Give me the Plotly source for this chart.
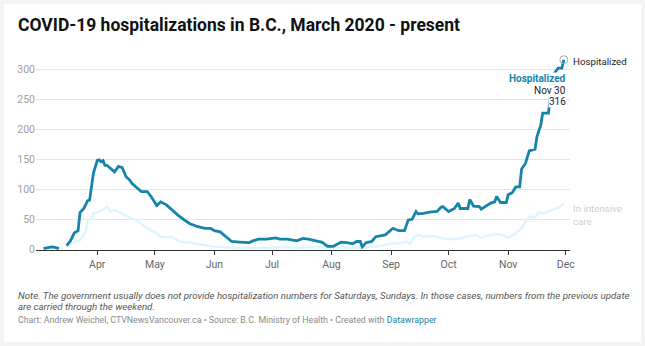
import plotly.graph_objects as go

# ---------------- data ----------------
hosp_dates = [
    "2020-03-04", "2020-03-06", "2020-03-08", "2020-03-10", "2020-03-12", "2020-03-14",
    "2020-03-16", "2020-03-18", "2020-03-20", "2020-03-22", "2020-03-23", "2020-03-25",
    "2020-03-27", "2020-03-28", "2020-03-30", "2020-04-01", "2020-04-02", "2020-04-03",
    "2020-04-04", "2020-04-05", "2020-04-06", "2020-04-08", "2020-04-10", "2020-04-12",
    "2020-04-14", "2020-04-16", "2020-04-18", "2020-04-19", "2020-04-21", "2020-04-23",
    "2020-04-24", "2020-04-27", "2020-04-29", "2020-05-02", "2020-05-04", "2020-05-07",
    "2020-05-10", "2020-05-11", "2020-05-13", "2020-05-15", "2020-05-17", "2020-05-19",
    "2020-05-23", "2020-05-27", "2020-05-30", "2020-06-01", "2020-06-04", "2020-06-07",
    "2020-06-10", "2020-06-14", "2020-06-19", "2020-06-21", "2020-06-24", "2020-06-28",
    "2020-07-03", "2020-07-05", "2020-07-09", "2020-07-14", "2020-07-17", "2020-07-20",
    "2020-07-22", "2020-07-25", "2020-07-27", "2020-07-30", "2020-08-02", "2020-08-06",
    "2020-08-09", "2020-08-12", "2020-08-14", "2020-08-16", "2020-08-17", "2020-08-19",
    "2020-08-22", "2020-08-24", "2020-08-29", "2020-09-01", "2020-09-02", "2020-09-05",
    "2020-09-08", "2020-09-10", "2020-09-12", "2020-09-14", "2020-09-15", "2020-09-18",
    "2020-09-21", "2020-09-25", "2020-09-27", "2020-09-28", "2020-10-01", "2020-10-04",
    "2020-10-06", "2020-10-07", "2020-10-11", "2020-10-12", "2020-10-14", "2020-10-17",
    "2020-10-18", "2020-10-20", "2020-10-23", "2020-10-25", "2020-10-26", "2020-10-28",
    "2020-10-31", "2020-11-01", "2020-11-03", "2020-11-05", "2020-11-07", "2020-11-08",
    "2020-11-10", "2020-11-12", "2020-11-15", "2020-11-16", "2020-11-18", "2020-11-19",
    "2020-11-22", "2020-11-23", "2020-11-25", "2020-11-27", "2020-11-29", "2020-11-30",
]
hosp_values = [
    1, 3, 4, 3, 1, None,
    6, 14, 27, 31, 61, 68,
    81, 82, 127, 148, 149, 146,
    148, 140, 140, 134, 129, 138,
    136, 121, 115, 110, 104, 99,
    96, 96, 88, 73, 79, 74,
    65, 63, 57, 52, 47, 43,
    38, 35, 35, 31, 29, 21,
    13, 12, 11, 14, 17, 17,
    19, 17, 17, 14, 18, 17,
    15, 13, 12, 5, 5, 12,
    11, 9, 13, 13, 4, 11,
    13, 21, 24, 32, 35, 31,
    31, 49, 50, 63, 59, 60,
    62, 63, 70, 71, 63, 68,
    77, 68, 68, 83, 72, 71,
    67, 71, 77, 79, 88, 78,
    78, 91, 94, 104, 104, 134,
    143, 164, 167, 188, 207, 227,
    227, 257, 293, 302, 302, 316,
]

icu_dates = [
    "2020-03-16", "2020-03-19", "2020-03-23", "2020-03-25", "2020-03-26", "2020-03-27",
    "2020-03-29", "2020-03-30", "2020-04-01", "2020-04-03", "2020-04-06", "2020-04-08",
    "2020-04-10", "2020-04-14", "2020-04-18", "2020-04-21", "2020-04-25", "2020-04-28",
    "2020-05-02", "2020-05-04", "2020-05-08", "2020-05-09", "2020-05-11", "2020-05-14",
    "2020-05-19", "2020-05-26", "2020-06-02", "2020-06-12", "2020-06-28", "2020-07-05",
    "2020-07-15", "2020-07-20", "2020-08-15", "2020-08-26", "2020-08-31", "2020-09-05",
    "2020-09-09", "2020-09-11", "2020-09-13", "2020-09-15", "2020-09-18", "2020-09-22",
    "2020-09-25", "2020-09-29", "2020-10-06", "2020-10-10", "2020-10-15", "2020-10-18",
    "2020-10-21", "2020-10-26", "2020-10-29", "2020-11-01", "2020-11-05", "2020-11-08",
    "2020-11-10", "2020-11-12", "2020-11-15", "2020-11-17", "2020-11-20", "2020-11-22",
    "2020-11-25", "2020-11-28", "2020-11-30",
]
icu_values = [
    3, 11, 15, 25, 30, 46,
    52, 60, 62, 64, 71, 63,
    65, 59, 54, 49, 40, 33,
    27, 21, 20, 21, 18, 13,
    11, 7, 4, 2, 2, 4,
    2, 4, 2, 5, 9, 10,
    13, 9, 20, 24, 21, 22,
    21, 17, 17, 21, 24, 19,
    23, 25, 24, 19, 27, 35,
    46, 54, 53, 62, 60, 63,
    67, 71, 77,
]

month_ticks = ["2020-04-01", "2020-05-01", "2020-06-01", "2020-07-01", "2020-08-01",
               "2020-09-01", "2020-10-01", "2020-11-01", "2020-12-01"]
month_labels = ["Apr", "May", "Jun", "Jul", "Aug", "Sep", "Oct", "Nov", "Dec"]
y_ticks = [0, 50, 100, 150, 200, 250, 300]

# ---------------- styling ----------------
BLUE = "#1584aa"
ICU = "#ddf6fd"
FONT = "Roboto"
W, H = 645, 346
L, R, T, B = 36, 570, 54, 250  # plot area in pixels


def px(x):
    return (x - L) / (R - L)


def py(y):
    return (B - y) / (B - T)


fig = go.Figure()
fig.add_trace(go.Scatter(x=icu_dates, y=icu_values, mode="lines",
                         line=dict(color=ICU, width=2.5), hoverinfo="skip",
                         connectgaps=False))
fig.add_trace(go.Scatter(x=hosp_dates, y=hosp_values, mode="lines",
                         line=dict(color=BLUE, width=2.8), hoverinfo="skip",
                         connectgaps=False))
# end marker
fig.add_trace(go.Scatter(x=[hosp_dates[-1]], y=[hosp_values[-1]], mode="markers",
                         marker=dict(size=8, color="rgba(255,255,255,0)",
                                     line=dict(color="#aaaaaa", width=1)),
                         hoverinfo="skip"))

fig.update_layout(
    width=W, height=H,
    margin=dict(l=L, r=W - R, t=T, b=H - B, pad=0),
    paper_bgcolor="#f4f4f4",
    plot_bgcolor="rgba(0,0,0,0)",
    showlegend=False,
    font=dict(family=FONT, color="#333"),
    xaxis=dict(
        range=["2020-02-29 02:00", "2020-12-03 05:00"],
        tickvals=month_ticks, ticktext=month_labels,
        showgrid=False, showline=True, linecolor="#333", linewidth=1,
        ticks="outside", ticklen=4, tickcolor="#333", tickwidth=1,
        tickfont=dict(family=FONT, size=10.5, color="#666"),
        zeroline=False, fixedrange=True,
    ),
    yaxis=dict(
        range=[-1.2, 325.5],
        tickvals=y_ticks,
        showgrid=True, gridcolor="#e6e6e6", gridwidth=1,
        zeroline=False, showline=False, ticks="",
        tickfont=dict(family=FONT, size=10.5, color="#a0a0a0"),
        fixedrange=True,
    ),
    shapes=[dict(type="rect", xref="paper", yref="paper",
                 x0=px(4), x1=px(641), y0=py(342), y1=py(4),
                 fillcolor="white", line=dict(width=0), layer="below")],
)

ann = []
# title
ann.append(dict(xref="paper", yref="paper", x=px(16), y=py(25.5), xanchor="left", yanchor="middle",
                text="<b>COVID-19 hospitalizations in B.C., March 2020 - present</b>",
                showarrow=False, font=dict(family=FONT, size=17.5, color="#111")))
# end labels
ann.append(dict(x=hosp_dates[-1], y=hosp_values[-1], xanchor="left", yanchor="middle",
                xshift=7, yshift=-2, text="Hospitalized", showarrow=False,
                font=dict(family=FONT, size=9.7, color="#222")))
ann.append(dict(x=icu_dates[-1], y=icu_values[-1], xanchor="left", yanchor="top",
                xshift=7, yshift=2, text="In intensive<br>care", showarrow=False, align="left",
                font=dict(family=FONT, size=9.7, color="#cfcfcf")))
# point annotation
ann.append(dict(x=hosp_dates[-1], y=hosp_values[-1], xanchor="right", yanchor="middle",
                xshift=3, yshift=-19, text="<b>Hospitalized</b>", showarrow=False,
                bgcolor="white", borderpad=0,
                font=dict(family=FONT, size=10, color=BLUE)))
ann.append(dict(x=hosp_dates[-1], y=hosp_values[-1], xanchor="right", yanchor="middle",
                xshift=3, yshift=-30.5, text="Nov 30", showarrow=False,
                bgcolor="white", borderpad=0,
                font=dict(family=FONT, size=10, color="#222")))
ann.append(dict(x=hosp_dates[-1], y=hosp_values[-1], xanchor="right", yanchor="middle",
                xshift=3, yshift=-41.5, text=str(hosp_values[-1]), showarrow=False,
                bgcolor="white", borderpad=0,
                font=dict(family=FONT, size=10, color="#222")))
# footer
ann.append(dict(xref="paper", yref="paper", x=px(16), y=py(295), xanchor="left", yanchor="middle",
                text="<i>Note. The government usually does not provide hospitalization numbers for Saturdays, Sundays. In those cases, numbers from the previous update</i>",
                showarrow=False, font=dict(family=FONT, size=9.7, color="#555")))
ann.append(dict(xref="paper", yref="paper", x=px(16), y=py(306), xanchor="left", yanchor="middle",
                text="<i>are carried through the weekend.</i>",
                showarrow=False, font=dict(family=FONT, size=9.7, color="#555")))
ann.append(dict(xref="paper", yref="paper", x=px(16), y=py(319.5), xanchor="left", yanchor="middle",
                text="Chart: Andrew Weichel, CTVNewsVancouver.ca • Source: B.C. Ministry of Health • Created with <span style='color:#1d81a2'>Datawrapper</span>",
                showarrow=False, font=dict(family=FONT, size=8.8, color="#8a8a8a")))
fig.update_layout(annotations=ann)

fig.write_html("out.html")
